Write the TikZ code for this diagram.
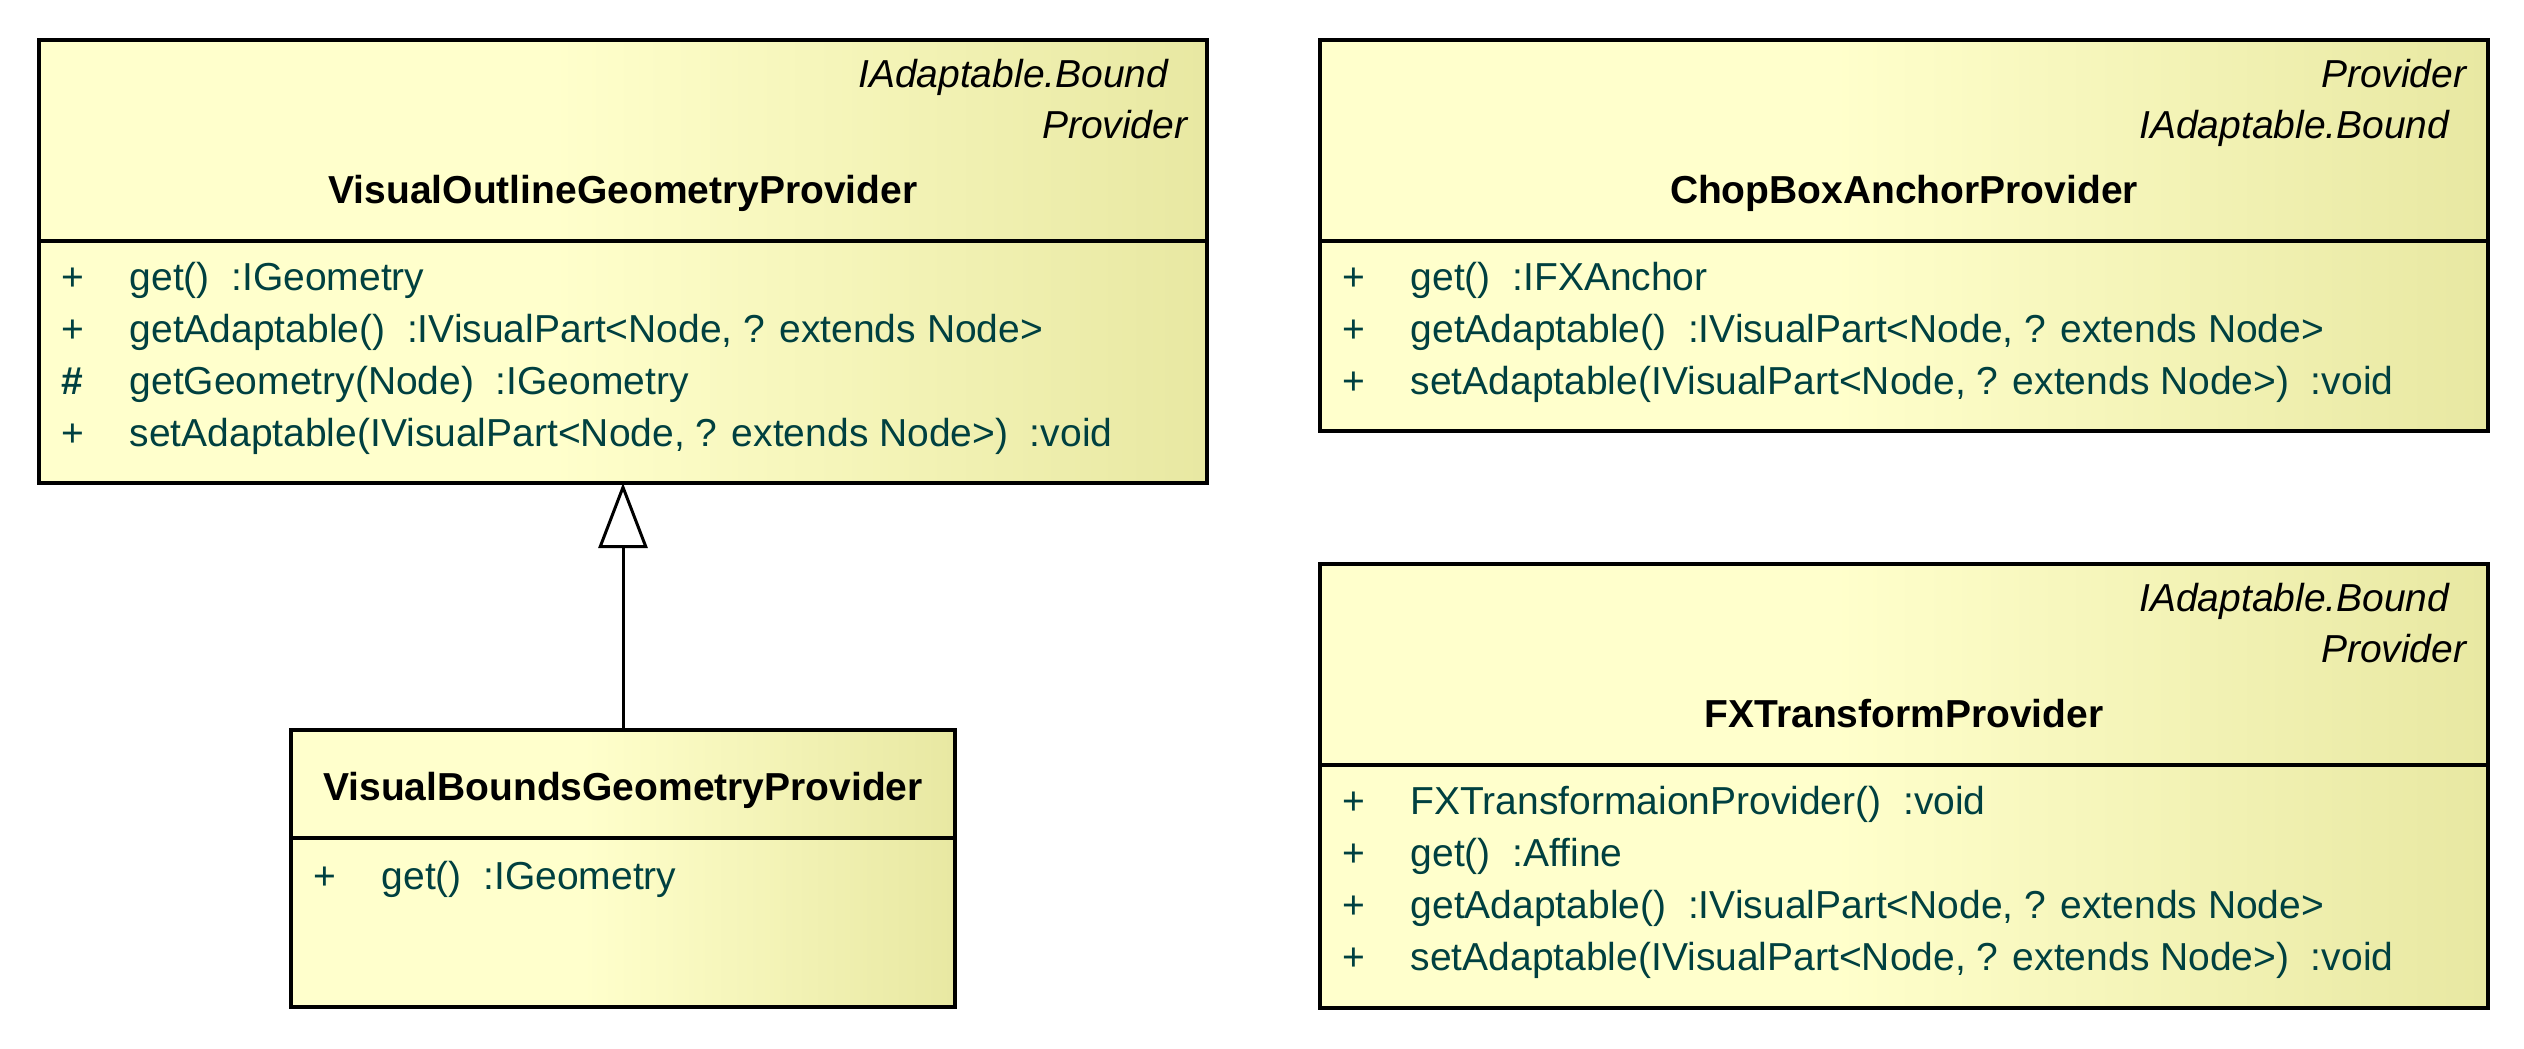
\documentclass[tikz,border=0pt]{standalone}
\usepackage{fontspec}
\setmainfont{Liberation Sans}
\usetikzlibrary{arrows.meta}
\definecolor{ylwA}{RGB}{255,255,204}
\definecolor{ylwB}{RGB}{232,232,162}
\definecolor{memcol}{RGB}{0,64,64}
\pgfdeclarehorizontalshading{umlshade}{100bp}{color(0bp)=(ylwA); color(47bp)=(ylwA); color(75bp)=(ylwB); color(100bp)=(ylwB)}
\newcommand{\umlfont}{\fontsize{11.7}{14}\selectfont}
\begin{document}
\begin{tikzpicture}[x=0.3pt,y=-0.3pt,
  cls/.style={rectangle, draw=black, line width=1pt, shading=umlshade, inner sep=0pt, outer sep=0pt},
  divider/.style={draw=black, line width=1pt},
  mem/.style={anchor=base west, inner sep=0pt, text=memcol, font=\umlfont},
  stereo/.style={anchor=base east, inner sep=0pt, text=black, font=\umlfont\itshape},
  cname/.style={anchor=base, inner sep=0pt, text=black, font=\umlfont\bfseries},
  genarrow/.style={draw=black, line width=0.9pt, -{Triangle[open, length=19.5pt, width=14.7pt, line width=0.9pt]}}
]
\useasboundingbox (0,0) rectangle (2524,1048);

% ---------- VisualOutlineGeometryProvider ----------
\node[cls, minimum width=350.4pt, minimum height=132.9pt] (b1) at (623,261.5) {};
\draw[divider] (b1.west |- 0,241) coordinate (b1dl) -- (b1.east |- 0,241) coordinate (b1dr);
\node[stereo] (b1s1) at (1169,87) {IAdaptable.Bound};
\node[stereo] (b1s2) at (1188,138) {Provider};
\node[cname] (b1n) at (623,203) {VisualOutlineGeometryProvider};
\node[mem] (b1v1) at (61,290) {+};
\node[mem] (b1m1) at (129,290) {get()\ \ :IGeometry};
\node[mem] (b1v2) at (61,342) {+};
\node[mem] (b1m2) at (129,342) {getAdaptable()\ \ :IVisualPart<Node, ? extends Node>};
\node[mem, font=\umlfont\bfseries] (b1v3) at (61,394) {\#};
\node[mem] (b1m3) at (129,394) {getGeometry(Node)\ \ :IGeometry};
\node[mem] (b1v4) at (61,446) {+};
\node[mem] (b1m4) at (129,446) {setAdaptable(IVisualPart<Node, ? extends Node>)\ \ :void};

% ---------- ChopBoxAnchorProvider ----------
\node[cls, minimum width=350.4pt, minimum height=117.3pt] (b2) at (1904,235.5) {};
\draw[divider] (b2.west |- 0,241) coordinate (b2dl) -- (b2.east |- 0,241) coordinate (b2dr);
\node[stereo] (b2s1) at (2467,87) {Provider};
\node[stereo] (b2s2) at (2450,138) {IAdaptable.Bound};
\node[cname] (b2n) at (1904,203) {ChopBoxAnchorProvider};
\node[mem] (b2v1) at (1342,290) {+};
\node[mem] (b2m1) at (1410,290) {get()\ \ :IFXAnchor};
\node[mem] (b2v2) at (1342,342) {+};
\node[mem] (b2m2) at (1410,342) {getAdaptable()\ \ :IVisualPart<Node, ? extends Node>};
\node[mem] (b2v3) at (1342,394) {+};
\node[mem] (b2m3) at (1410,394) {setAdaptable(IVisualPart<Node, ? extends Node>)\ \ :void};

% ---------- VisualBoundsGeometryProvider ----------
\node[cls, minimum width=199.2pt, minimum height=83.1pt] (b3) at (623,868.5) {};
\draw[divider] (b3.west |- 0,838) coordinate (b3dl) -- (b3.east |- 0,838) coordinate (b3dr);
\node[cname] (b3n) at (623,800) {VisualBoundsGeometryProvider};
\node[mem] (b3v1) at (313,889) {+};
\node[mem] (b3m1) at (381,889) {get()\ \ :IGeometry};

% ---------- FXTransformProvider ----------
\node[cls, minimum width=350.4pt, minimum height=133.2pt] (b4) at (1904,786) {};
\draw[divider] (b4.west |- 0,765) coordinate (b4dl) -- (b4.east |- 0,765) coordinate (b4dr);
\node[stereo] (b4s1) at (2450,611) {IAdaptable.Bound};
\node[stereo] (b4s2) at (2467,662) {Provider};
\node[cname] (b4n) at (1904,727) {FXTransformProvider};
\node[mem] (b4v1) at (1342,814) {+};
\node[mem] (b4m1) at (1410,814) {FXTransformaionProvider()\ \ :void};
\node[mem] (b4v2) at (1342,866) {+};
\node[mem] (b4m2) at (1410,866) {get()\ \ :Affine};
\node[mem] (b4v3) at (1342,918) {+};
\node[mem] (b4m3) at (1410,918) {getAdaptable()\ \ :IVisualPart<Node, ? extends Node>};
\node[mem] (b4v4) at (1342,970) {+};
\node[mem] (b4m4) at (1410,970) {setAdaptable(IVisualPart<Node, ? extends Node>)\ \ :void};

% ---------- generalization ----------
\draw[genarrow] (b3.north) -- (b1.south);
\end{tikzpicture}
\end{document}
